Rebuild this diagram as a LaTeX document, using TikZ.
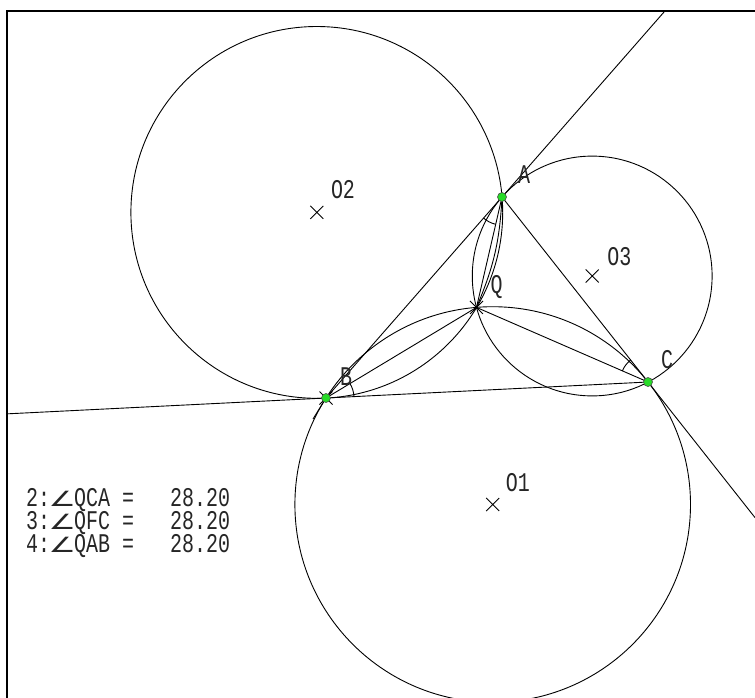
\documentclass[tikz,border=0pt]{standalone}
\usepackage{fontspec}
\usetikzlibrary{angles,calc}
\newfontfamily\lblfont[FakeStretch=0.74]{Liberation Mono}
\newfontfamily\angfont[FakeStretch=1.45]{DejaVu Sans}
\newcommand{\angsym}{\makebox[24pt][c]{\angfont\fontsize{21pt}{21pt}\selectfont ∠}}
\definecolor{ptgreen}{RGB}{40,220,40}
\begin{document}
\begin{tikzpicture}[x=1pt,y=-1pt,
  geo/.style={line width=0.9pt,black},
  framebox/.style={line width=2pt,black},
  ptlabel/.style={anchor=base west,inner sep=0pt,font=\lblfont\fontsize{27pt}{23pt}\selectfont,text=black!85},
  greenpt/.style={circle,fill=ptgreen,draw=black!70,line width=0.6pt,inner sep=0pt,minimum size=9pt},
  anglemark/.style={draw,line width=0.9pt,angle radius=28pt},
  xmark/.pic={\draw[line width=0.9pt] (-6.5,-6.5)--(6.5,6.5) (-6.5,6.5)--(6.5,-6.5);}
]
\useasboundingbox (0,0) rectangle (755,697);
\clip (0,0) rectangle (755,697);
\fill[white] (0,0) rectangle (755,697);

% frame
\draw[framebox] (7,700) -- (7,11) -- (760,11);

% points
\coordinate (A) at (502,197);
\coordinate (B) at (326,398);
\coordinate (C) at (648,382);
\coordinate (Q) at (476.5,307.4);
\coordinate (O1) at (492.7,504.5);
\coordinate (O2) at (316.8,212.4);
\coordinate (O3) at (592.2,276.0);
\coordinate (Atop) at (664.9,11);
\coordinate (Bleft) at (8,413.8);
\coordinate (Cright) at (755,517.6);
\coordinate (Btail) at (313,419);

% circles
\draw[geo] (O1) circle[radius=197.8pt];
\draw[geo] (O2) circle[radius=185.9pt];
\draw[geo] (O3) circle[radius=119.9pt];

% lines
\draw[geo] (Bleft) -- (B) -- (C);
\draw[geo] (B) -- (Atop);
\draw[geo] (B) -- (Btail);
\draw[geo] (A) -- (Cright);
\draw[geo] (A) -- (Q);
\draw[geo] (B) -- (Q);
\draw[geo] (C) -- (Q);
\draw[geo] (A) to[bend left=10] (Q);

% angle marks
\pic[anglemark] {angle = B--A--Q};
\pic[anglemark] {angle = A--C--Q};
\pic[anglemark] {angle = C--B--Q};

% centre and point crosses
\pic at (O1) {xmark};
\pic at (O2) {xmark};
\pic at (O3) {xmark};
\pic at (B) {xmark};
\pic at (Q) {xmark};

% green points
\node[greenpt] (pA) at (A) {};
\node[greenpt] (pB) at (B) {};
\node[greenpt] (pC) at (C) {};

% labels
\node[ptlabel] (lA) at ($(A)+(16,-14)$) {A};
\node[ptlabel] (lB) at ($(B)+(14,-13)$) {B};
\node[ptlabel] (lC) at ($(C)+(13,-14)$) {C};
\node[ptlabel] (lQ) at ($(Q)+(14,-14)$) {Q};
\node[ptlabel] (lO1) at ($(O1)+(13,-13)$) {O1};
\node[ptlabel] (lO2) at ($(O2)+(14,-14)$) {O2};
\node[ptlabel] (lO3) at ($(O3)+(15,-11)$) {O3};

% measurement panel
\node[ptlabel] (t2) at (26,506) {2:\angsym QCA =};
\node[ptlabel] (v2) at (170,506) {28.20};
\node[ptlabel] (t3) at (26,529) {3:\angsym QFC =};
\node[ptlabel] (v3) at (170,529) {28.20};
\node[ptlabel] (t4) at (26,552) {4:\angsym QAB =};
\node[ptlabel] (v4) at (170,552) {28.20};
\end{tikzpicture}
\end{document}
